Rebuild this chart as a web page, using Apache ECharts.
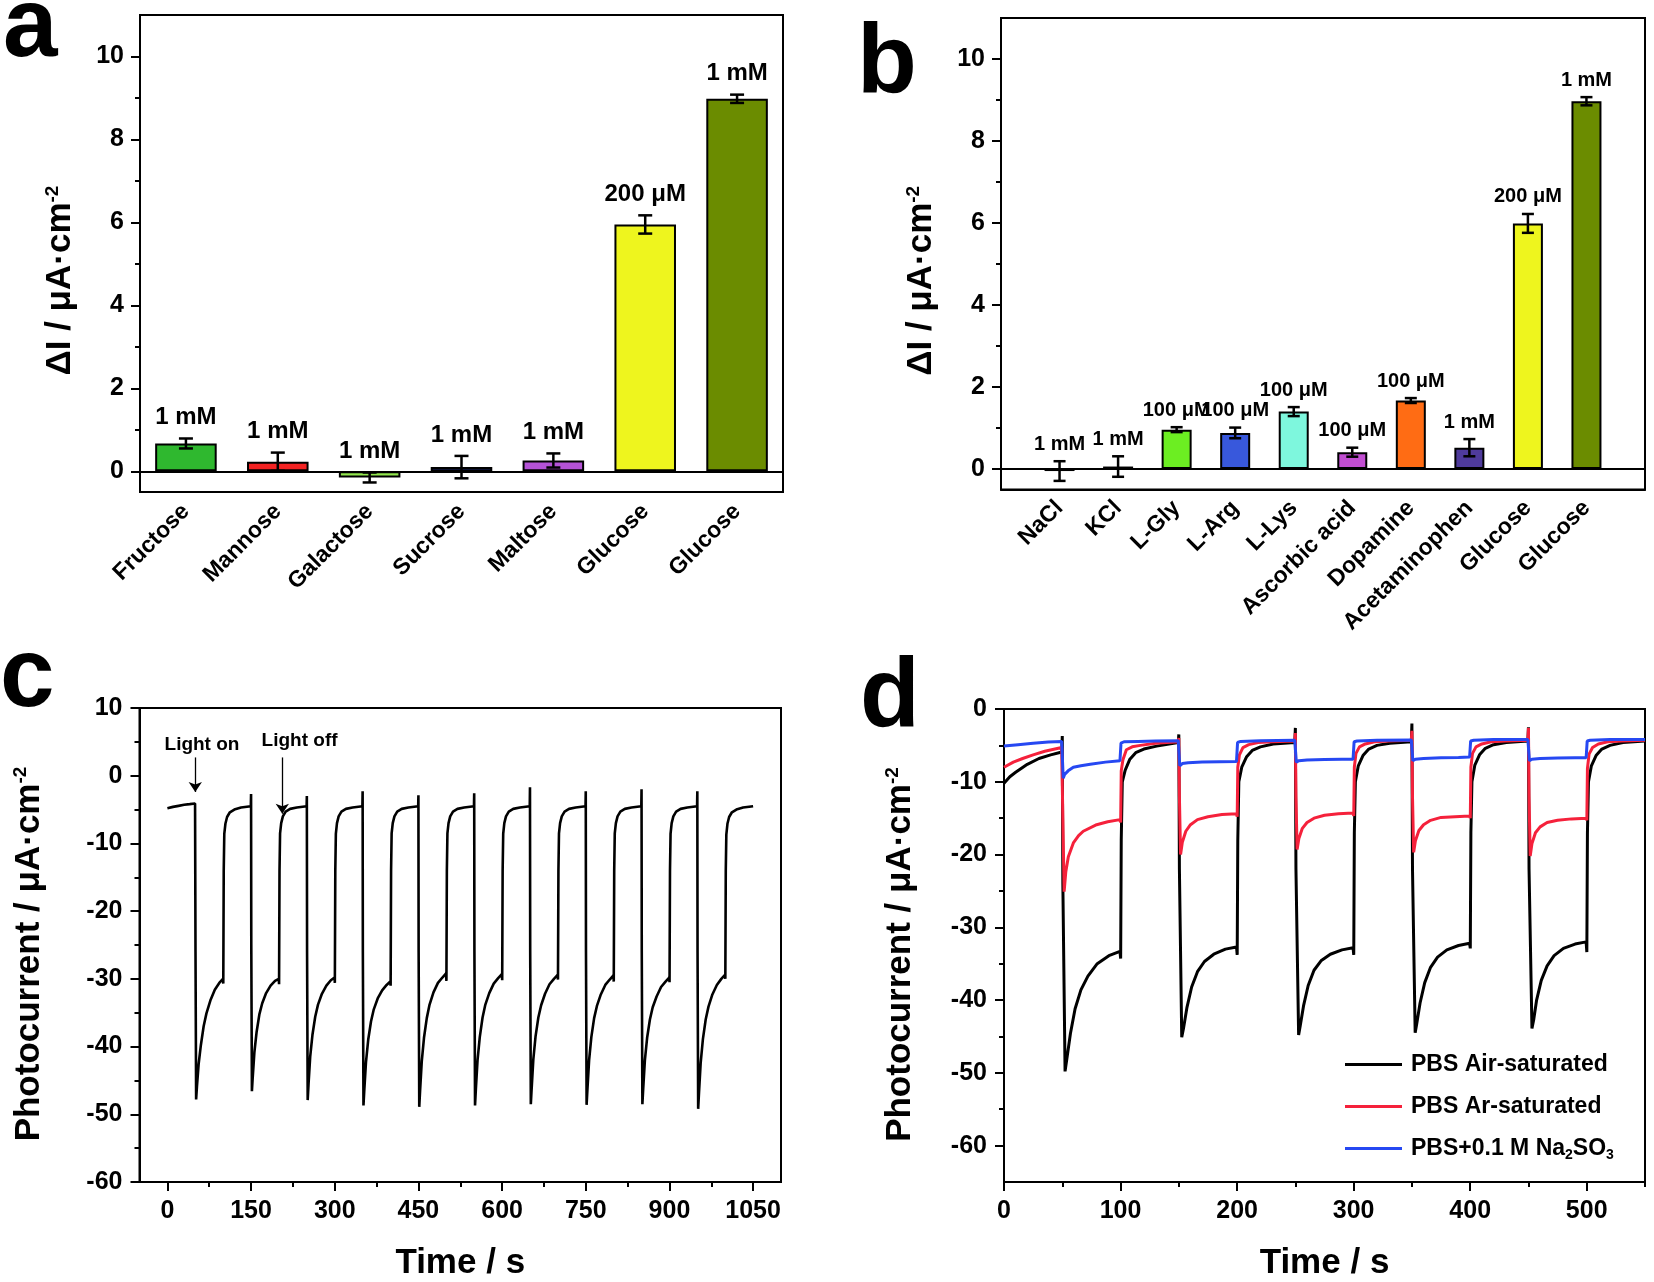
<!DOCTYPE html>
<html>
<head>
<meta charset="utf-8">
<script src="https://cdn.jsdelivr.net/npm/echarts@6.0.0/dist/echarts.min.js"></script>
<style>
  html, body { margin: 0; padding: 0; background: #fff; }
  #chart { width: 1654px; height: 1282px; }
</style>
</head>
<body>
<div id="chart"></div>
<script>
// ---- panel a : sugars ----
const sugarNames = ['Fructose', 'Mannose', 'Galactose', 'Sucrose', 'Maltose', 'Glucose', 'Glucose'];
const sugarValues = [0.67, 0.23, -0.15, 0.10, 0.26, 5.95, 8.98];
const sugarErrors = [0.12, 0.22, 0.12, 0.27, 0.17, 0.22, 0.10];
const sugarConc = ['1 mM', '1 mM', '1 mM', '1 mM', '1 mM', '200 μM', '1 mM'];
const sugarColors = ['#2fb82f', '#f42323', '#92e64e', '#3344c4', '#b452d6', '#eef51e', '#6b8c00'];

// ---- panel b : interferents ----
const ionNames = ['NaCl', 'KCl', 'L-Gly', 'L-Arg', 'L-Lys', 'Ascorbic acid', 'Dopamine', 'Acetaminophen', 'Glucose', 'Glucose'];
const ionValues = [-0.05, 0.06, 0.96, 0.88, 1.40, 0.41, 1.67, 0.52, 5.99, 8.97];
const ionErrors = [0.24, 0.25, 0.06, 0.13, 0.11, 0.11, 0.06, 0.21, 0.23, 0.10];
const ionConc = ['1 mM', '1 mM', '100 μM', '100 μM', '100 μM', '100 μM', '100 μM', '1 mM', '200 μM', '1 mM'];
const ionColors = ['#9a9a9a', '#9a9a9a', '#6cee22', '#3858dc', '#7ef7dd', '#c24ed2', '#ff6c14', '#4f3b9c', '#eef51e', '#6b8c00'];

const barTicks = [0, 2, 4, 6, 8, 10];
const barMinorTicks = [1, 3, 5, 7, 9];

// ---- panel c : on/off cycles [time s, current] ----
const photoC = [
  [0, -4.8], [10, -4.6], [20, -4.45], [30, -4.3], [40, -4.2], [49.6, -4.1],
  [50, -4.0], [50.4, -26], [51.5, -47.8], [53, -45.9], [56, -42.6], [60, -39.8], [65, -37.0], [70, -35.1], [77, -33.2], [85, -31.6], [93, -30.6], [99.6, -30.0],
  [100.2, -30.7], [101, -14], [102, -8.6], [104, -7.1], [107, -6.1], [112, -5.4], [120, -5.0], [132, -4.7], [149.6, -4.5],
  [150, -2.7], [150.4, -25], [151.5, -46.6], [153, -44.5], [156, -40.8], [160, -37.8], [165, -35.2], [170, -33.6], [177, -32.1], [185, -31.0], [193, -30.3], [199.6, -30.0],
  [200.2, -30.8], [201, -14], [202, -8.5], [204, -7.0], [207, -6.0], [212, -5.3], [220, -4.9], [232, -4.7], [249.6, -4.5],
  [250, -3.0], [250.4, -26], [251.5, -47.9], [253, -45.6], [256, -41.5], [260, -38.3], [265, -35.6], [270, -33.8], [277, -32.2], [285, -31.0], [293, -30.2], [299.6, -29.8],
  [300.2, -30.6], [301, -14], [302, -8.6], [304, -7.0], [307, -6.0], [312, -5.3], [320, -4.9], [332, -4.7], [349.6, -4.5],
  [350, -2.3], [350.4, -26], [351.5, -48.7], [353, -46.4], [356, -42.3], [360, -39.0], [365, -36.3], [370, -34.5], [377, -32.9], [385, -31.7], [393, -30.9], [399.6, -30.4],
  [400.2, -31.0], [401, -14], [402, -8.5], [404, -7.0], [407, -6.0], [412, -5.3], [420, -4.9], [432, -4.7], [449.6, -4.5],
  [450, -2.9], [450.4, -26], [451.5, -48.9], [453, -46.5], [456, -42.2], [460, -38.7], [465, -35.8], [470, -33.8], [477, -32.0], [485, -30.6], [493, -29.8], [499.6, -29.2],
  [500.2, -30.3], [501, -14], [502, -8.5], [504, -7.0], [507, -6.0], [512, -5.3], [520, -4.9], [532, -4.7], [549.6, -4.5],
  [550, -2.6], [550.4, -26], [551.5, -48.7], [553, -46.3], [556, -42.0], [560, -38.6], [565, -35.7], [570, -33.8], [577, -32.1], [585, -30.7], [593, -29.9], [599.6, -29.3],
  [600.2, -30.2], [601, -14], [602, -8.6], [604, -7.0], [607, -6.0], [612, -5.3], [620, -4.9], [632, -4.7], [649.6, -4.5],
  [650, -1.7], [650.4, -26], [651.5, -48.5], [653, -46.2], [656, -41.9], [660, -38.5], [665, -35.7], [670, -33.9], [677, -32.2], [685, -30.8], [693, -30.0], [699.6, -29.4],
  [700.2, -30.1], [701, -14], [702, -8.5], [704, -7.0], [707, -6.0], [712, -5.3], [720, -4.9], [732, -4.7], [749.6, -4.5],
  [750, -2.3], [750.4, -26], [751.5, -48.6], [753, -46.3], [756, -42.0], [760, -38.6], [765, -35.8], [770, -34.0], [777, -32.3], [785, -30.9], [793, -30.1], [799.6, -29.5],
  [800.2, -30.4], [801, -14], [802, -8.5], [804, -7.0], [807, -6.0], [812, -5.3], [820, -4.9], [832, -4.7], [849.6, -4.5],
  [850, -2.0], [850.4, -26], [851.5, -48.5], [853, -46.2], [856, -42.0], [860, -38.7], [865, -36.0], [870, -34.2], [877, -32.6], [885, -31.2], [893, -30.4], [899.6, -29.8],
  [900.2, -30.5], [901, -14], [902, -8.6], [904, -7.0], [907, -6.0], [912, -5.3], [920, -4.9], [932, -4.7], [949.6, -4.5],
  [950, -2.3], [950.4, -26], [951.5, -49.2], [953, -46.8], [956, -42.4], [960, -38.9], [965, -36.0], [970, -34.1], [977, -32.3], [985, -30.9], [993, -30.0], [999.6, -29.4],
  [1000.2, -30.0], [1001, -14], [1002, -8.7], [1004, -7.1], [1007, -6.1], [1012, -5.4], [1020, -5.0], [1032, -4.7], [1050, -4.5]
];
const timeTicksC = [0, 150, 300, 450, 600, 750, 900, 1050];
const timeMinorC = [75, 225, 375, 525, 675, 825, 975];
const currentTicksC = [-60, -50, -40, -30, -20, -10, 0, 10];
const currentMinorC = [-55, -45, -35, -25, -15, -5, 5];
// arrows: [time, from, to]
const arrowsC = [[50, 2.7, -2.4], [206, 2.7, -5.6]];
const arrowTextC = [['Light on', 62, 4.6], ['Light off', 237, 5.1]];

// ---- panel d : three electrolytes ----
const dNames = ['PBS Air-saturated', 'PBS Ar-saturated', 'PBS+0.1 M Na2SO3'];
const airD = [
  [0, -10.2], [5, -9.3], [10, -8.7], [20, -7.6], [30, -6.8], [40, -6.3], [49.6, -5.9],
  [50, -3.7], [50.5, -24], [52.4, -49.8], [54, -48.0], [57, -44.6], [61, -41.2], [66, -38.6], [72, -36.7], [80, -35.0], [90, -33.9], [99.5, -33.3],
  [100.1, -34.3], [100.6, -18], [101.5, -10], [104, -8.4], [108, -6.9], [113, -6.0], [120, -5.5], [131, -5.1], [149.5, -4.6],
  [150, -3.5], [150.5, -22], [152.5, -45.1], [154, -43.9], [157, -41.0], [161, -38.2], [166, -36.1], [172, -34.7], [180, -33.7], [190, -33.0], [199.5, -32.7],
  [200.1, -33.8], [200.6, -18], [201.5, -10], [204, -8.0], [208, -6.6], [213, -5.7], [220, -5.2], [231, -4.8], [249.5, -4.6],
  [250, -2.6], [250.5, -22], [252.8, -44.8], [254, -43.7], [257, -40.8], [261, -38.0], [266, -35.9], [272, -34.6], [280, -33.7], [290, -33.1], [299.5, -32.8],
  [300.1, -33.8], [300.6, -17], [301.5, -10], [304, -7.8], [308, -6.4], [313, -5.5], [320, -5.0], [331, -4.7], [349.5, -4.5],
  [350, -2.0], [350.5, -22], [352.8, -44.5], [354, -43.4], [357, -40.4], [361, -37.6], [366, -35.5], [372, -34.1], [380, -33.1], [390, -32.5], [399.5, -32.2],
  [400.1, -32.9], [400.6, -17], [401.5, -10], [404, -7.7], [408, -6.3], [413, -5.4], [420, -4.9], [431, -4.6], [449.5, -4.4],
  [450, -2.5], [450.5, -22], [453, -43.9], [454.5, -42.7], [457, -40.0], [461, -37.3], [466, -35.3], [472, -33.9], [480, -32.9], [490, -32.3], [499.5, -32.0],
  [500.1, -33.4], [500.6, -17], [501.5, -10], [504, -7.8], [508, -6.4], [513, -5.5], [520, -5.0], [531, -4.6], [550, -4.4]
];
const arD = [
  [0, -8.0], [8, -7.3], [16, -6.8], [25, -6.3], [35, -5.8], [49.5, -5.3],
  [50, -5.2], [50.5, -15], [51.6, -25.1], [53, -22.4], [55.2, -20.3], [59.5, -18.4], [64, -17.4], [68, -16.8], [79.5, -15.9], [89, -15.5], [99.5, -15.2],
  [100.1, -15.6], [100.6, -8.5], [102, -7.0], [105, -5.6], [110, -5.2], [117, -5.0], [130, -4.7], [149.5, -4.5],
  [150, -4.0], [150.5, -12], [151.5, -20.0], [153, -18.3], [156, -16.8], [160, -15.9], [166, -15.2], [175, -14.8], [187, -14.5], [199.5, -14.4],
  [200.1, -14.8], [200.6, -8.0], [202, -6.3], [205, -5.3], [210, -4.9], [218, -4.6], [230, -4.5], [249.5, -4.4],
  [250, -3.3], [250.5, -12], [251.5, -19.3], [253, -17.8], [256, -16.4], [260, -15.6], [266, -15.0], [275, -14.6], [287, -14.4], [299.5, -14.3],
  [300.1, -14.7], [300.6, -8.0], [302, -6.1], [305, -5.2], [310, -4.8], [318, -4.5], [330, -4.4], [349.5, -4.3],
  [350, -3.0], [350.5, -12], [351.5, -19.7], [353, -18.1], [356, -16.7], [360, -15.9], [366, -15.3], [375, -14.9], [387, -14.8], [399.5, -14.7],
  [400.1, -15.0], [400.6, -8.0], [402, -6.1], [405, -5.2], [410, -4.8], [418, -4.5], [430, -4.4], [449.5, -4.3],
  [450, -2.6], [450.5, -12], [451.5, -20.2], [453, -18.5], [456, -17.0], [460, -16.2], [466, -15.6], [475, -15.3], [487, -15.1], [499.5, -15.0],
  [500.1, -15.3], [500.6, -8.2], [502, -6.2], [505, -5.3], [510, -4.8], [518, -4.5], [530, -4.4], [550, -4.3]
];
const sulfiteD = [
  [0, -5.1], [12, -4.9], [25, -4.7], [38, -4.55], [49.5, -4.45],
  [50, -4.4], [50.8, -9.5], [52, -9.0], [55, -8.5], [59.5, -8.0], [66, -7.8], [74, -7.6], [87, -7.3], [99.5, -7.1],
  [100.4, -4.7], [103, -4.5], [115, -4.45], [130, -4.4], [149.5, -4.35],
  [150, -4.3], [150.8, -7.8], [153, -7.5], [158, -7.4], [170, -7.3], [185, -7.25], [199.5, -7.2],
  [200.4, -4.6], [203, -4.45], [220, -4.35], [249.5, -4.3],
  [250, -4.25], [250.8, -7.3], [253, -7.1], [260, -7.0], [275, -6.95], [290, -6.9], [299.5, -6.9],
  [300.4, -4.5], [303, -4.4], [320, -4.3], [349.5, -4.25],
  [350, -4.2], [350.8, -7.1], [353, -6.9], [360, -6.8], [375, -6.7], [390, -6.65], [399.5, -6.6],
  [400.4, -4.4], [403, -4.3], [420, -4.2], [449.5, -4.2],
  [450, -4.15], [450.8, -7.1], [453, -6.9], [460, -6.8], [475, -6.75], [490, -6.7], [499.5, -6.7],
  [500.4, -4.4], [503, -4.3], [520, -4.2], [550, -4.2]
];
const timeTicksD = [0, 100, 200, 300, 400, 500];
const timeMinorD = [50, 150, 250, 350, 450, 550];
const currentTicksD = [-60, -50, -40, -30, -20, -10, 0];
const currentMinorD = [-55, -45, -35, -25, -15, -5];

const FONT = '"Liberation Sans", Arial, sans-serif';
const BLACK = '#000';

const chart = echarts.init(document.getElementById('chart'));

const tickFont = { color: BLACK, fontFamily: FONT, fontWeight: 'bold', fontSize: 25, formatter: v => String(v) };
const nameRich = {
  m: { fontSize: 35, fontWeight: 'bold', fontFamily: FONT, color: BLACK },
  s: { fontSize: 19, fontWeight: 'bold', fontFamily: FONT, color: BLACK, verticalAlign: 'top' }
};

function majorAxis(extra) {
  return Object.assign({
    type: 'value',
    splitLine: { show: false },
    axisLine: { show: true, onZero: false, lineStyle: { color: BLACK, width: 2 } },
    axisTick: { show: true, length: 9, lineStyle: { color: BLACK, width: 2 } },
    axisLabel: Object.assign({ margin: 17 }, tickFont)
  }, extra);
}
function minorAxis(extra, ticks) {
  return Object.assign({
    type: 'value',
    splitLine: { show: false },
    axisLine: { show: false, onZero: false },
    axisLabel: { show: false },
    axisTick: { show: true, length: 5, customValues: ticks, lineStyle: { color: BLACK, width: 2 } }
  }, extra);
}

// error bars with concentration text on top
function errorBars(conc, capHalf, fontSize, lift) {
  return function (params, api) {
    const x = api.value(0), v = api.value(1), e = api.value(2);
    const hi = api.coord([x, v + e]);
    const lo = api.coord([x, v - e]);
    const cx = hi[0];
    const st = { stroke: BLACK, lineWidth: 2.5 };
    return {
      type: 'group',
      children: [
        { type: 'line', shape: { x1: cx, y1: hi[1], x2: cx, y2: lo[1] }, style: st },
        { type: 'line', shape: { x1: cx - capHalf, y1: hi[1], x2: cx + capHalf, y2: hi[1] }, style: st },
        { type: 'line', shape: { x1: cx - capHalf, y1: lo[1], x2: cx + capHalf, y2: lo[1] }, style: st },
        {
          type: 'text', x: cx, y: hi[1] - lift,
          style: { text: conc[params.dataIndex], fill: BLACK, font: 'bold ' + fontSize + 'px ' + FONT, align: 'center', verticalAlign: 'middle' }
        }
      ]
    };
  };
}

const zeroLine = {
  silent: true, symbol: 'none', label: { show: false },
  lineStyle: { color: BLACK, width: 2, type: 'solid' },
  data: [{ yAxis: 0 }]
};

const option = {
  animation: false,
  backgroundColor: '#fff',
  grid: [
    { left: 140, top: 15, width: 643, height: 477, show: true, borderColor: BLACK, borderWidth: 2 },
    { left: 1001, top: 18, width: 644, height: 471.5, show: true, borderColor: BLACK, borderWidth: 2 },
    { left: 139.5, top: 708, width: 641.5, height: 476, show: true, borderColor: BLACK, borderWidth: 2 },
    { left: 1004, top: 709, width: 641, height: 474, show: true, borderColor: BLACK, borderWidth: 2 }
  ],
  xAxis: [
    {
      gridIndex: 0, type: 'category', data: sugarNames, position: 'bottom',
      axisLine: { onZero: false, lineStyle: { color: BLACK, width: 2 } },
      axisTick: { show: false },
      axisLabel: { interval: 0, rotate: 45, margin: 16, color: BLACK, fontFamily: FONT, fontWeight: 'bold', fontSize: 23 }
    },
    majorAxis({
      gridIndex: 1, min: 0, max: 11, interval: 1, position: 'bottom',
      axisTick: { show: false },
      axisLabel: {
        rotate: 45, margin: 15, color: BLACK, fontFamily: FONT, fontWeight: 'bold', fontSize: 23,
        formatter: v => ionNames[v - 1] || ''
      }
    }),
    majorAxis({
      gridIndex: 2, min: -50, max: 1100, position: 'bottom',
      axisTick: { show: true, length: 9, customValues: timeTicksC, lineStyle: { color: BLACK, width: 2 } },
      axisLabel: Object.assign({}, tickFont, { margin: 17, customValues: timeTicksC }),
      name: 'Time / s', nameLocation: 'middle', nameGap: 64,
      nameTextStyle: { fontSize: 35, fontWeight: 'bold', fontFamily: FONT, color: BLACK }
    }),
    minorAxis({ gridIndex: 2, min: -50, max: 1100, position: 'bottom' }, timeMinorC),
    majorAxis({
      gridIndex: 3, min: 0, max: 550, position: 'bottom',
      axisTick: { show: true, length: 9, customValues: timeTicksD, lineStyle: { color: BLACK, width: 2 } },
      axisLabel: Object.assign({}, tickFont, { margin: 17, customValues: timeTicksD }),
      name: 'Time / s', nameLocation: 'middle', nameGap: 64,
      nameTextStyle: { fontSize: 35, fontWeight: 'bold', fontFamily: FONT, color: BLACK }
    }),
    minorAxis({ gridIndex: 3, min: 0, max: 550, position: 'bottom' }, timeMinorD)
  ],
  yAxis: [
    majorAxis({
      gridIndex: 0, min: -0.5, max: 11, position: 'left',
      axisTick: { show: true, length: 9, customValues: barTicks, lineStyle: { color: BLACK, width: 2 } },
      axisLabel: Object.assign({}, tickFont, { margin: 16, customValues: barTicks }),
      name: '{m|ΔI / μA·cm}{s|-2}', nameLocation: 'middle', nameGap: 62,
      nameTextStyle: { rich: nameRich, padding: [0, 54, 0, 0] }
    }),
    minorAxis({ gridIndex: 0, min: -0.5, max: 11, position: 'left' }, barMinorTicks),
    majorAxis({
      gridIndex: 1, min: -0.5, max: 11, position: 'left',
      axisTick: { show: true, length: 9, customValues: barTicks, lineStyle: { color: BLACK, width: 2 } },
      axisLabel: Object.assign({}, tickFont, { margin: 16, customValues: barTicks }),
      name: '{m|ΔI / μA·cm}{s|-2}', nameLocation: 'middle', nameGap: 62,
      nameTextStyle: { rich: nameRich, padding: [0, 54, 0, 0] }
    }),
    minorAxis({ gridIndex: 1, min: -0.5, max: 11, position: 'left' }, barMinorTicks),
    majorAxis({
      gridIndex: 2, min: -60, max: 10, position: 'left',
      axisTick: { show: true, length: 9, customValues: currentTicksC, lineStyle: { color: BLACK, width: 2 } },
      axisLabel: Object.assign({}, tickFont, { margin: 17, customValues: currentTicksC }),
      name: '{m|Photocurrent / μA·cm}{s|-2}', nameLocation: 'middle', nameGap: 93,
      nameTextStyle: { rich: nameRich, padding: [0, 18, 0, 0] }
    }),
    minorAxis({ gridIndex: 2, min: -60, max: 10, position: 'left' }, currentMinorC),
    majorAxis({
      gridIndex: 3, min: -65, max: 0, position: 'left',
      axisTick: { show: true, length: 9, customValues: currentTicksD, lineStyle: { color: BLACK, width: 2 } },
      axisLabel: Object.assign({}, tickFont, { margin: 17, customValues: currentTicksD }),
      name: '{m|Photocurrent / μA·cm}{s|-2}', nameLocation: 'middle', nameGap: 86,
      nameTextStyle: { rich: nameRich, padding: [0, 18, 0, 0] }
    }),
    minorAxis({ gridIndex: 3, min: -65, max: 0, position: 'left' }, currentMinorD)
  ],
  legend: {
    data: dNames, orient: 'vertical', left: 1340, top: 1048,
    icon: 'rect', itemWidth: 57, itemHeight: 3, itemGap: 19, selectedMode: false,
    formatter: name => name === dNames[2]
      ? '{t|PBS+0.1 M Na}{s|2}{t|SO}{s|3}'
      : '{t|' + name + '}',
    textStyle: {
      padding: [0, 0, 0, 4],
      rich: {
        t: { fontSize: 23, fontWeight: 'bold', fontFamily: FONT, color: BLACK, lineHeight: 28 },
        s: { fontSize: 14, fontWeight: 'bold', fontFamily: FONT, color: BLACK, lineHeight: 14, verticalAlign: 'bottom' }
      }
    }
  },
  graphic: [
    { type: 'text', x: 3, y: 29, style: { text: 'a', font: 'bold 98px ' + FONT, fill: BLACK, verticalAlign: 'middle' } },
    { type: 'text', x: 857, y: 65, style: { text: 'b', font: 'bold 98px ' + FONT, fill: BLACK, verticalAlign: 'middle' } },
    { type: 'text', x: 0, y: 679, style: { text: 'c', font: 'bold 98px ' + FONT, fill: BLACK, verticalAlign: 'middle' } },
    { type: 'text', x: 860, y: 699, style: { text: 'd', font: 'bold 98px ' + FONT, fill: BLACK, verticalAlign: 'middle' } }
  ],
  series: [
    {
      type: 'bar', xAxisIndex: 0, yAxisIndex: 0, barWidth: '67%',
      data: sugarValues.map((v, i) => ({ value: v, itemStyle: { color: sugarColors[i] } })),
      itemStyle: { borderColor: BLACK, borderWidth: 2 },
      markLine: zeroLine
    },
    {
      type: 'custom', xAxisIndex: 0, yAxisIndex: 0, z: 5,
      encode: { x: 0, y: 1 },
      data: sugarValues.map((v, i) => [i, v, sugarErrors[i]]),
      renderItem: errorBars(sugarConc, 7, 24, 21)
    },
    {
      type: 'bar', xAxisIndex: 1, yAxisIndex: 2, barWidth: 30,
      data: ionValues.map((v, i) => ({ value: [i + 1, v], itemStyle: { color: ionColors[i] } })),
      itemStyle: { borderColor: BLACK, borderWidth: 2 },
      markLine: zeroLine
    },
    {
      type: 'custom', xAxisIndex: 1, yAxisIndex: 2, z: 5,
      encode: { x: 0, y: 1 },
      data: ionValues.map((v, i) => [i + 1, v, ionErrors[i]]),
      renderItem: errorBars(ionConc, 6, 20, 17)
    },
    {
      type: 'line', xAxisIndex: 2, yAxisIndex: 4, data: photoC,
      showSymbol: false, lineStyle: { color: BLACK, width: 2.6 }, itemStyle: { color: BLACK },
      markLine: {
        silent: true, symbol: ['none', 'arrow'], symbolSize: 10, label: { show: false },
        lineStyle: { color: BLACK, width: 1.3, type: 'solid' },
        data: arrowsC.map(a => [{ coord: [a[0], a[1]] }, { coord: [a[0], a[2]] }])
      },
      markPoint: {
        silent: true, symbol: 'circle', symbolSize: 1, itemStyle: { color: 'rgba(0,0,0,0)' },
        label: { show: true, position: 'inside', formatter: p => p.name, color: BLACK, fontFamily: FONT, fontWeight: 'bold', fontSize: 19 },
        data: arrowTextC.map(a => ({ name: a[0], coord: [a[1], a[2]] }))
      }
    },
    {
      name: dNames[0], type: 'line', xAxisIndex: 4, yAxisIndex: 6, data: airD,
      showSymbol: false, lineStyle: { color: '#000000', width: 3 }, itemStyle: { color: '#000000' }
    },
    {
      name: dNames[1], type: 'line', xAxisIndex: 4, yAxisIndex: 6, data: arD,
      showSymbol: false, lineStyle: { color: '#f5213b', width: 3 }, itemStyle: { color: '#f5213b' }
    },
    {
      name: dNames[2], type: 'line', xAxisIndex: 4, yAxisIndex: 6, data: sulfiteD,
      showSymbol: false, lineStyle: { color: '#2648f2', width: 3 }, itemStyle: { color: '#2648f2' }
    }
  ]
};

chart.setOption(option);
window.addEventListener('resize', () => chart.resize());
</script>
</body>
</html>
